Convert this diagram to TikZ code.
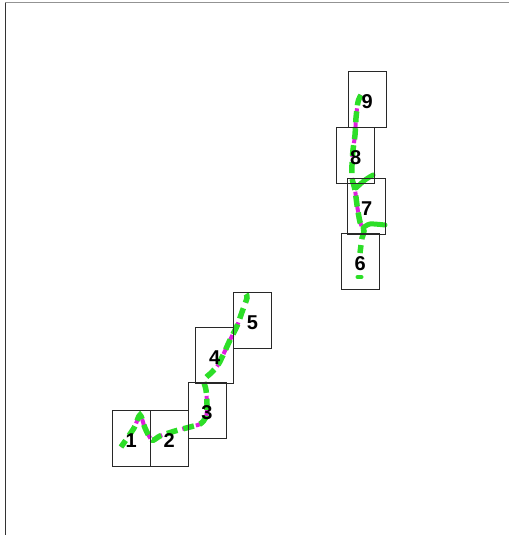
\documentclass[tikz,border=0pt]{standalone}
\usepackage{fontspec}
\setmainfont{Liberation Sans}
\definecolor{trkgreen}{RGB}{45,222,40}
\definecolor{trkmag}{RGB}{222,30,222}
\definecolor{boxline}{RGB}{40,40,40}
\tikzset{
  cellbox/.style={draw=boxline, line width=0.8pt, minimum width=38pt, minimum height=56pt,
    inner sep=0pt, text height=18.5pt, text depth=0pt,
    font=\fontsize{20}{20}\selectfont\bfseries},
  magtrack/.style={draw=trkmag, line width=4pt, line cap=butt, dash pattern=on 7pt off 7pt, dash phase=0pt},
  grntrack/.style={draw=trkgreen, line width=5.5pt, line cap=butt, dash pattern=on 11pt off 6pt, dash phase=3pt},
}
\begin{document}
\begin{tikzpicture}[x=1pt,y=-1pt]
\useasboundingbox (0,0) rectangle (509,535);
% frame
\draw[draw=gray!85, line width=1.3pt] (5.3,2.6) -- (509,2.6);
\draw[draw=black!80, line width=1.3pt] (5.3,2.6) -- (5.3,535);

% trajectory boxes 1-5
\def\pathA{plot[smooth, tension=0.5] coordinates {(121,447) (134,428) (140,415) (145,428) (152,440) (160,436) (175,431) (190,427) (200,424) (206,417) (207,404) (206,390) (204,380) (211,373) (218,365) (224,353) (230,340) (237,326) (242,312) (247,298) (246,294)}}
\draw[magtrack] \pathA;
\draw[grntrack] \pathA;

% trajectory boxes 6-9
\def\pathB{plot[smooth, tension=0.5] coordinates {(360,253) (362,238) (364,231) (360,222) (357,205) (355,190) (352,178) (352,165) (353,150) (355,135) (356,118) (358,102) (361,95)}}
\draw[magtrack] \pathB;
\draw[grntrack] \pathB;
\draw[draw=trkgreen, line width=4pt, line cap=round] (357.5,277) -- (361.5,277);
\draw[draw=trkgreen, line width=5pt, line cap=round] plot[smooth] coordinates {(356,188) (365,180) (373,175)};
\draw[draw=trkgreen, line width=5pt, line cap=round] plot[smooth] coordinates {(363,228) (370,224) (385,225)};

% boxes
\node[cellbox] (b1) at (131.3,438.3) {1};
\node[cellbox] (b2) at (169.3,438.3) {2};
\node[cellbox] (b3) at (207,410.3) {3};
\node[cellbox] (b4) at (214.8,355.3) {4};
\node[cellbox] (b5) at (252.5,320.3) {5};
\node[cellbox] (b6) at (360.2,261.3) {6};
\node[cellbox] (b7) at (366.7,206.2) {7};
\node[cellbox] (b8) at (355.8,155) {8};
\node[cellbox] (b9) at (367.2,99.2) {9};
\end{tikzpicture}
\end{document}
